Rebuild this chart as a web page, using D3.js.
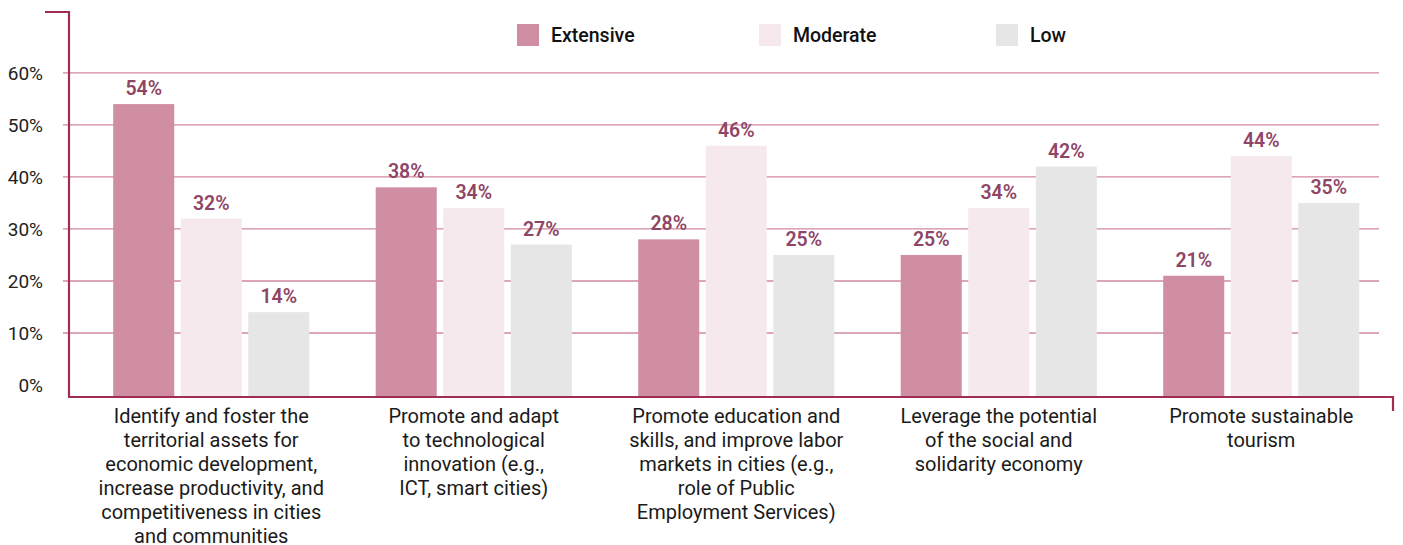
<!DOCTYPE html>
<html>
<head>
<meta charset="utf-8">
<script src="https://cdn.jsdelivr.net/npm/d3@7"></script>
<style>
  html, body { margin: 0; padding: 0; background: #fff; }
  svg { display: block; font-family: Roboto, "Noto Sans", sans-serif; }
</style>
</head>
<body>
<svg id="chart" width="1403" height="545"></svg>
<script>
// Survey responses by policy area
const categories = [
  ["Identify and foster the", "territorial assets for", "economic development,", "increase productivity, and", "competitiveness in cities", "and communities"],
  ["Promote and adapt", "to technological", "innovation (e.g.,", "ICT, smart cities)"],
  ["Promote education and", "skills, and improve labor", "markets in cities (e.g.,", "role of Public", "Employment Services)"],
  ["Leverage the potential", "of the social and", "solidarity economy"],
  ["Promote sustainable", "tourism"]
];
const seriesNames = ["Extensive", "Moderate", "Low"];
const extensive = [54, 38, 28, 25, 21];
const moderate  = [32, 34, 46, 34, 44];
const low       = [14, 27, 25, 42, 35];
const yTicks = [0, 10, 20, 30, 40, 50, 60];

const seriesValues = [extensive, moderate, low];
const colors = ["#cf8ea1", "#f5e9ee", "#e6e6e6"];
const axisColor = "#a12d52";
const gridColor = "#cf8aa0";
const labelColor = "#8f4566";

const svg = d3.select("#chart");
const plotLeft = 69, plotRight = 1393, plotTop = 12, plotBottom = 397;

const catKeys = categories.map((c, i) => i);
const x0 = d3.scaleBand().domain(catKeys).range([80, 1392.5])
  .paddingInner(0.253).paddingOuter(0.1265);
const x1 = d3.scaleBand().domain(seriesNames).range([0, x0.bandwidth()])
  .paddingInner(0.096).paddingOuter(0);
const y = d3.scaleLinear().domain([-2.3, 71.7]).range([plotBottom, plotTop]);

// gridlines
svg.append("g").selectAll("line").data(yTicks.filter(d => d > 0)).join("line")
  .attr("x1", plotLeft - 6).attr("x2", 1379)
  .attr("y1", d => y(d)).attr("y2", d => y(d))
  .attr("stroke", gridColor).attr("stroke-width", 1.3);

// y tick labels
svg.append("g").selectAll("text").data(yTicks).join("text")
  .attr("x", 43).attr("y", d => y(d))
  .attr("dy", "0.35em").attr("text-anchor", "end")
  .attr("font-size", 19).attr("fill", "#222")
  .text(d => d + "%");

// bars
const groups = svg.append("g").selectAll("g").data(catKeys).join("g")
  .attr("transform", i => `translate(${x0(i)},0)`);

groups.selectAll("rect")
  .data(i => seriesNames.map((s, k) => ({ s, k, v: seriesValues[k][i] })))
  .join("rect")
  .attr("x", d => x1(d.s)).attr("width", x1.bandwidth())
  .attr("y", d => y(d.v)).attr("height", d => plotBottom - y(d.v))
  .attr("fill", d => colors[d.k]);

groups.selectAll("text.val")
  .data(i => seriesNames.map((s, k) => ({ s, k, v: seriesValues[k][i] })))
  .join("text").attr("class", "val")
  .attr("x", d => x1(d.s) + x1.bandwidth() / 2)
  .attr("y", d => y(d.v) - 9)
  .attr("text-anchor", "middle")
  .attr("font-size", 19.5).attr("font-weight", 600)
  .attr("fill", labelColor)
  .text(d => d.v + "%");

// axes frame
svg.append("path")
  .attr("d", `M${plotLeft - 24},${plotTop} H${plotLeft} V${plotBottom} H${plotRight} V${plotBottom + 14}`)
  .attr("fill", "none").attr("stroke", axisColor).attr("stroke-width", 2.2);

// category labels
const catText = svg.append("g").selectAll("text").data(catKeys).join("text")
  .attr("text-anchor", "middle")
  .attr("font-size", 20).attr("fill", "#1a1a1a");
catText.each(function(i) {
  const t = d3.select(this);
  categories[i].forEach((line, j) => {
    t.append("tspan")
      .attr("x", x0(i) + x0.bandwidth() / 2)
      .attr("y", 423 + j * 24)
      .text(line);
  });
});

// legend
const legendX = [517, 759, 996];
const legend = svg.append("g").selectAll("g").data(seriesNames).join("g")
  .attr("transform", (d, k) => `translate(${legendX[k]},24)`);
legend.append("rect").attr("width", 22).attr("height", 22)
  .attr("fill", (d, k) => colors[k]);
legend.append("text").attr("x", 34).attr("y", 11).attr("dy", "0.35em")
  .attr("font-size", 19.5).attr("font-weight", 500).attr("fill", "#111")
  .text(d => d);
</script>
</body>
</html>
